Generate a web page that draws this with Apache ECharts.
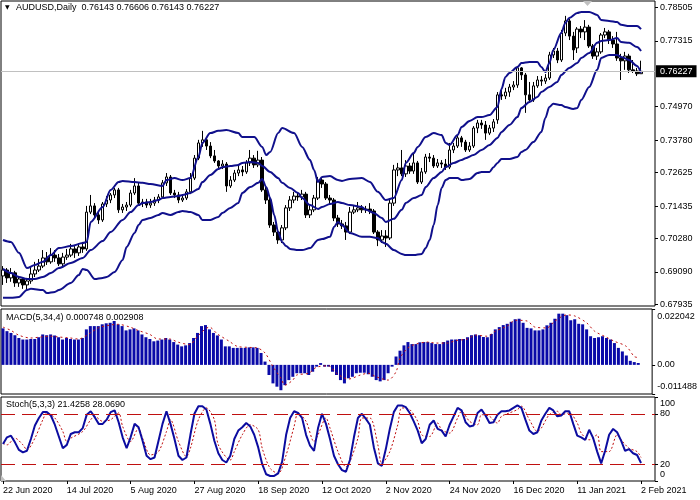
<!DOCTYPE html>
<html><head><meta charset="utf-8">
<script src="https://cdn.jsdelivr.net/npm/echarts@6/dist/echarts.min.js"></script>
<style>html,body{margin:0;padding:0;background:#fff}#c{width:700px;height:500px}</style>
</head><body><div id="c"></div>
<script>
// ---- data ----
const tickLabels = ['22 Jun 2020','14 Jul 2020','5 Aug 2020','27 Aug 2020','18 Sep 2020','12 Oct 2020','2 Nov 2020','24 Nov 2020','16 Dec 2020','11 Jan 2021','2 Feb 2021'];
const priceTicks = [0.67935,0.69090,0.70280,0.71435,0.72625,0.73780,0.74970,0.77315,0.78505];
const macdTicks = [-0.011488,0,0.022042];
const stochTicks = [0,20,80,100];

const open = [
0.6895,0.6916,0.6888,0.6906,0.6870,0.6884,0.6863,0.6877,0.6902,0.6916,
0.6930,0.6959,0.6945,0.6969,0.6959,0.6938,0.6962,0.6969,0.6991,0.6977,
0.6998,0.6991,0.7122,0.7144,0.7112,0.7094,0.7151,0.7165,0.7183,0.7201,
0.7130,0.7140,0.7147,0.7190,0.7215,0.7154,0.7158,0.7147,0.7154,0.7165,
0.7176,0.7226,0.7247,0.7190,0.7183,0.7165,0.7172,0.7194,0.7243,0.7314,
0.7368,0.7379,0.7357,0.7322,0.7304,0.7286,0.7293,0.7215,0.7236,0.7261,
0.7272,0.7265,0.7297,0.7314,0.7290,0.7307,0.7201,0.7165,0.7076,0.7051,
0.7023,0.7066,0.7137,0.7165,0.7179,0.7176,0.7186,0.7112,0.7130,0.7172,
0.7236,0.7222,0.7172,0.7165,0.7101,0.7080,0.7073,0.7051,0.7122,0.7130,
0.7137,0.7130,0.7133,0.7126,0.7051,0.7023,0.7037,0.7030,0.7154,0.7272,
0.7279,0.7258,0.7286,0.7268,0.7297,0.7229,0.7265,0.7318,0.7314,0.7286,
0.7297,0.7293,0.7282,0.7343,0.7357,0.7386,0.7371,0.7343,0.7357,0.7421,
0.7439,0.7432,0.7403,0.7421,0.7450,0.7539,0.7535,0.7549,0.7567,0.7574,
0.7635,0.7610,0.7539,0.7521,0.7571,0.7592,0.7588,0.7599,0.7681,0.7695,
0.7663,0.7759,0.7802,0.7748,0.7706,0.7773,0.7763,0.7780,0.7713,0.7677,
0.7692,0.7752,0.7763,0.7734,0.7720,0.7670,0.7660,0.7677,0.7628,0.7624,
0.76143];
const close = [
0.6916,0.6888,0.6906,0.6870,0.6884,0.6863,0.6877,0.6902,0.6916,0.6930,
0.6959,0.6945,0.6969,0.6959,0.6938,0.6962,0.6969,0.6991,0.6977,0.6998,
0.6991,0.7122,0.7144,0.7112,0.7094,0.7151,0.7165,0.7183,0.7201,0.7130,
0.7140,0.7147,0.7190,0.7215,0.7154,0.7158,0.7147,0.7154,0.7165,0.7176,
0.7226,0.7247,0.7190,0.7183,0.7165,0.7172,0.7194,0.7243,0.7314,0.7368,
0.7379,0.7357,0.7322,0.7304,0.7286,0.7293,0.7215,0.7236,0.7261,0.7272,
0.7265,0.7297,0.7314,0.7290,0.7307,0.7201,0.7165,0.7076,0.7051,0.7023,
0.7066,0.7137,0.7165,0.7179,0.7176,0.7186,0.7112,0.7130,0.7172,0.7236,
0.7222,0.7172,0.7165,0.7101,0.7080,0.7073,0.7051,0.7122,0.7130,0.7137,
0.7130,0.7133,0.7126,0.7051,0.7023,0.7037,0.7030,0.7154,0.7272,0.7279,
0.7258,0.7286,0.7268,0.7297,0.7229,0.7265,0.7318,0.7314,0.7286,0.7297,
0.7293,0.7282,0.7343,0.7357,0.7386,0.7371,0.7343,0.7357,0.7421,0.7439,
0.7432,0.7403,0.7421,0.7443,0.7539,0.7535,0.7549,0.7567,0.7574,0.7635,
0.7610,0.7539,0.7521,0.7571,0.7592,0.7588,0.7599,0.7681,0.7695,0.7663,
0.7759,0.7802,0.7748,0.7699,0.7773,0.7763,0.7780,0.7713,0.7677,0.7692,
0.7752,0.7763,0.7734,0.7720,0.7670,0.7660,0.7677,0.7628,0.7624,0.7614,
0.76227];
const high = [
0.6930,0.6923,0.6923,0.6913,0.6895,0.6891,0.6888,0.6930,0.6945,0.6955,
0.6987,0.6980,0.6994,0.6987,0.6973,0.6977,0.6991,0.7009,0.7001,0.7012,
0.7016,0.7144,0.7183,0.7154,0.7122,0.7158,0.7179,0.7190,0.7208,0.7208,
0.7151,0.7158,0.7201,0.7243,0.7229,0.7169,0.7169,0.7169,0.7176,0.7186,
0.7236,0.7261,0.7254,0.7201,0.7194,0.7183,0.7204,0.7261,0.7325,0.7379,
0.7411,0.7389,0.7371,0.7343,0.7307,0.7307,0.7300,0.7250,0.7272,0.7290,
0.7286,0.7307,0.7343,0.7325,0.7340,0.7318,0.7215,0.7172,0.7087,0.7062,
0.7076,0.7147,0.7179,0.7194,0.7190,0.7201,0.7194,0.7144,0.7183,0.7247,
0.7243,0.7229,0.7183,0.7172,0.7112,0.7094,0.7087,0.7140,0.7144,0.7158,
0.7147,0.7144,0.7154,0.7133,0.7058,0.7058,0.7058,0.7172,0.7290,0.7297,
0.7343,0.7307,0.7297,0.7332,0.7304,0.7279,0.7329,0.7332,0.7325,0.7311,
0.7307,0.7311,0.7368,0.7368,0.7393,0.7393,0.7379,0.7371,0.7428,0.7450,
0.7450,0.7446,0.7432,0.7453,0.7549,0.7556,0.7564,0.7578,0.7588,0.7642,
0.7638,0.7617,0.7585,0.7585,0.7606,0.7606,0.7613,0.7692,0.7706,0.7706,
0.7770,0.7820,0.7809,0.7763,0.7780,0.7784,0.7805,0.7788,0.7720,0.7706,
0.7759,0.7777,0.7770,0.7748,0.7763,0.7685,0.7692,0.7685,0.7663,0.7635,
0.76606];
const low = [
0.6863,0.6870,0.6874,0.6856,0.6856,0.6849,0.6845,0.6867,0.6891,0.6909,
0.6923,0.6934,0.6938,0.6945,0.6930,0.6930,0.6952,0.6962,0.6959,0.6966,
0.6977,0.6984,0.7115,0.7101,0.7080,0.7087,0.7140,0.7154,0.7172,0.7119,
0.7119,0.7126,0.7140,0.7183,0.7147,0.7140,0.7137,0.7137,0.7144,0.7154,
0.7169,0.7215,0.7183,0.7172,0.7154,0.7158,0.7165,0.7186,0.7236,0.7307,
0.7354,0.7343,0.7314,0.7297,0.7272,0.7275,0.7194,0.7208,0.7229,0.7250,
0.7250,0.7258,0.7286,0.7279,0.7282,0.7194,0.7151,0.7066,0.7037,0.7009,
0.7012,0.7058,0.7126,0.7154,0.7162,0.7165,0.7101,0.7101,0.7122,0.7165,
0.7208,0.7165,0.7151,0.7090,0.7069,0.7062,0.7023,0.7044,0.7115,0.7122,
0.7119,0.7119,0.7115,0.7044,0.7001,0.7012,0.6998,0.7023,0.7144,0.7250,
0.7250,0.7247,0.7258,0.7258,0.7222,0.7222,0.7258,0.7300,0.7279,0.7279,
0.7279,0.7272,0.7275,0.7332,0.7350,0.7354,0.7336,0.7336,0.7350,0.7403,
0.7418,0.7379,0.7396,0.7407,0.7436,0.7521,0.7524,0.7532,0.7556,0.7564,
0.7592,0.7475,0.7510,0.7514,0.7564,0.7571,0.7578,0.7592,0.7670,0.7652,
0.7656,0.7748,0.7734,0.7663,0.7688,0.7741,0.7734,0.7706,0.7667,0.7663,
0.7685,0.7741,0.7720,0.7706,0.7660,0.7592,0.7628,0.7617,0.7617,0.7606,
0.76143];

const bbUpper = [[0,0.7023],[2,0.7016],[4,0.6977],[6,0.6923],[8,0.6934],[10,0.6945],[12,0.6969],[14,0.6994],[17,0.7001],[20,0.7012],[21,0.7016],[22,0.7087],[25,0.7140],[27,0.7201],[29,0.7229],[30,0.7233],[33,0.7229],[35,0.7226],[37,0.7222],[40,0.7215],[41,0.7236],[43,0.7243],[45,0.7236],[47,0.7243],[49,0.7318],[50,0.7368],[52,0.7403],[54,0.7411],[56,0.7414],[59,0.7403],[60,0.7389],[63,0.7389],[65,0.7354],[66,0.7325],[67,0.7336],[69,0.7403],[70,0.7421],[73,0.7403],[75,0.7354],[77,0.7307],[78,0.7272],[79,0.7229],[80,0.7247],[82,0.7250],[84,0.7236],[85,0.7233],[87,0.7240],[90,0.7243],[92,0.7229],[94,0.7194],[96,0.7165],[98,0.7172],[100,0.7236],[101,0.7297],[103,0.7332],[104,0.7354],[106,0.7389],[108,0.7403],[110,0.7396],[111,0.7368],[112,0.7361],[114,0.7396],[115,0.7425],[117,0.7446],[119,0.7460],[120,0.7460],[122,0.7467],[124,0.7496],[125,0.7560],[126,0.7603],[127,0.7617],[129,0.7638],[130,0.7652],[132,0.7656],[134,0.7656],[135,0.7638],[136,0.7620],[137,0.7652],[138,0.7699],[140,0.7759],[141,0.7795],[142,0.7812],[144,0.7830],[145,0.7834],[147,0.7834],[149,0.7823],[150,0.7805],[152,0.7802],[154,0.7798],[155,0.7788],[157,0.7784],[159,0.7784],[160,0.7773]];
const bbMiddle = [[0,0.6920],[2,0.6905],[4,0.6891],[6,0.6884],[8,0.6884],[10,0.6891],[12,0.6905],[14,0.6923],[17,0.6941],[20,0.6959],[22,0.6987],[25,0.7019],[27,0.7051],[30,0.7094],[32,0.7122],[34,0.7147],[35,0.7154],[37,0.7158],[39,0.7165],[40,0.7172],[42,0.7176],[44,0.7179],[45,0.7183],[47,0.7190],[49,0.7204],[50,0.7229],[52,0.7254],[54,0.7275],[55,0.7282],[57,0.7286],[59,0.7290],[60,0.7297],[62,0.7300],[64,0.7297],[65,0.7286],[67,0.7265],[69,0.7243],[70,0.7226],[72,0.7208],[74,0.7190],[75,0.7172],[77,0.7147],[79,0.7133],[80,0.7140],[82,0.7151],[84,0.7158],[85,0.7154],[87,0.7147],[90,0.7140],[91,0.7130],[93,0.7119],[95,0.7101],[96,0.7087],[98,0.7098],[100,0.7130],[101,0.7154],[103,0.7172],[105,0.7183],[106,0.7211],[108,0.7243],[110,0.7265],[111,0.7282],[113,0.7297],[115,0.7307],[116,0.7314],[118,0.7325],[120,0.7343],[122,0.7361],[124,0.7386],[125,0.7407],[127,0.7432],[129,0.7460],[130,0.7492],[132,0.7514],[134,0.7531],[135,0.7549],[137,0.7567],[139,0.7585],[140,0.7610],[142,0.7635],[144,0.7652],[145,0.7670],[147,0.7688],[149,0.7724],[150,0.7731],[152,0.7734],[154,0.7741],[155,0.7727],[157,0.7724],[159,0.7709],[160,0.7695]];
const bbLower = [[0,0.6817],[2,0.6817],[4,0.6820],[6,0.6845],[7,0.6849],[10,0.6845],[11,0.6834],[13,0.6838],[14,0.6845],[17,0.6870],[19,0.6898],[20,0.6920],[21,0.6916],[23,0.6884],[25,0.6888],[26,0.6891],[28,0.6909],[30,0.6952],[31,0.6998],[33,0.7048],[34,0.7076],[35,0.7094],[37,0.7101],[39,0.7112],[40,0.7119],[42,0.7112],[44,0.7122],[45,0.7126],[47,0.7122],[49,0.7112],[50,0.7094],[52,0.7094],[54,0.7105],[55,0.7119],[57,0.7137],[59,0.7154],[60,0.7190],[62,0.7211],[64,0.7226],[65,0.7240],[66,0.7211],[67,0.7172],[68,0.7112],[69,0.7051],[70,0.7016],[71,0.7001],[72,0.6991],[74,0.6987],[75,0.6987],[77,0.6994],[79,0.7023],[80,0.7026],[82,0.7034],[83,0.7069],[84,0.7087],[85,0.7076],[87,0.7048],[90,0.7034],[92,0.7034],[94,0.7030],[95,0.7016],[96,0.7009],[98,0.6987],[100,0.6973],[101,0.6969],[103,0.6969],[105,0.6973],[106,0.6994],[107,0.7023],[108,0.7076],[109,0.7147],[110,0.7208],[111,0.7236],[112,0.7243],[114,0.7243],[115,0.7236],[117,0.7240],[119,0.7261],[120,0.7265],[122,0.7265],[123,0.7282],[124,0.7297],[125,0.7311],[127,0.7311],[129,0.7318],[130,0.7336],[131,0.7343],[133,0.7371],[135,0.7407],[136,0.7457],[137,0.7496],[138,0.7507],[140,0.7503],[141,0.7496],[143,0.7489],[144,0.7492],[145,0.7521],[147,0.7567],[149,0.7628],[150,0.7670],[152,0.7681],[154,0.7681],[155,0.7674],[157,0.7663],[159,0.7642],[160,0.7617]];

const macdHist = [
0.0144,0.0133,0.0126,0.0117,0.0106,0.0100,0.0100,0.0102,0.0102,0.0109,
0.0120,0.0117,0.0120,0.0116,0.0109,0.0100,0.0106,0.0102,0.0100,0.0100,
0.0106,0.0140,0.0153,0.0153,0.0153,0.0160,0.0164,0.0166,0.0173,0.0160,
0.0153,0.0136,0.0140,0.0144,0.0136,0.0120,0.0109,0.0102,0.0093,0.0096,
0.0100,0.0106,0.0100,0.0090,0.0080,0.0073,0.0077,0.0086,0.0106,0.0126,
0.0153,0.0157,0.0140,0.0126,0.0116,0.0100,0.0073,0.0073,0.0067,0.0067,
0.0067,0.0067,0.0069,0.0069,0.0067,0.0047,0.0013,-0.0040,-0.0073,-0.0086,
-0.0100,-0.0080,-0.0060,-0.0047,-0.0033,-0.0033,-0.0033,-0.0040,-0.0027,-0.0007,
0.0007,-0.0007,-0.0007,-0.0027,-0.0040,-0.0060,-0.0073,-0.0053,-0.0047,-0.0033,
-0.0031,-0.0031,-0.0037,-0.0047,-0.0060,-0.0065,-0.0060,-0.0033,-0.0007,0.0033,
0.0056,0.0077,0.0090,0.0082,0.0082,0.0089,0.0090,0.0090,0.0086,0.0082,
0.0082,0.0090,0.0096,0.0100,0.0100,0.0102,0.0102,0.0109,0.0117,0.0120,
0.0117,0.0110,0.0109,0.0122,0.0140,0.0149,0.0157,0.0162,0.0170,0.0180,
0.0182,0.0166,0.0146,0.0144,0.0136,0.0136,0.0140,0.0156,0.0166,0.0182,
0.0202,0.0202,0.0196,0.0176,0.0180,0.0162,0.0160,0.0140,0.0113,0.0106,
0.0109,0.0113,0.0106,0.0100,0.0086,0.0067,0.0053,0.0037,0.0016,0.0011,
0.000748];
const macdSignal = [[0,0.0149],[2,0.0136],[4,0.0117],[7,0.0106],[9,0.0109],[12,0.0113],[14,0.0110],[17,0.0106],[19,0.0102],[22,0.0126],[24,0.0146],[27,0.0157],[29,0.0160],[32,0.0149],[34,0.0136],[37,0.0120],[39,0.0102],[42,0.0102],[44,0.0090],[47,0.0080],[49,0.0113],[52,0.0149],[54,0.0122],[57,0.0093],[59,0.0073],[62,0.0069],[64,0.0067],[66,0.0047],[68,-0.0007],[70,-0.0053],[71,-0.0080],[73,-0.0060],[74,-0.0040],[77,-0.0033],[79,-0.0009],[82,-0.0004],[84,-0.0033],[87,-0.0056],[90,-0.0040],[92,-0.0033],[94,-0.0047],[97,-0.0060],[99,-0.0027],[100,0.0027],[102,0.0067],[104,0.0082],[107,0.0090],[109,0.0086],[112,0.0086],[114,0.0096],[117,0.0102],[119,0.0117],[122,0.0113],[124,0.0133],[127,0.0153],[129,0.0176],[132,0.0173],[134,0.0149],[137,0.0146],[139,0.0173],[142,0.0197],[144,0.0193],[147,0.0166],[149,0.0133],[152,0.0109],[154,0.0093],[157,0.0073],[159,0.0033],[160,0.002908]];

const stochMain = [
44,52,54,46,37,34,36,50,66,75,82,82,78,67,
53,39,43,56,58,58,63,79,83,76,68,68,73,82,84,70,52,39,52,68,64,48,30,26,28,48,68,83,68,50,30,25,28,55,80,89,89,85,68,48,33,25,22,30,50,60,64,69,65,55,40,20,8,6,6,9,23,55,75,83,81,75,55,42,36,63,80,68,50,30,20,13,11,
25,
52,75,80,74,67,40,21,18,38,62,82,90,90,88,81,71,60,45,50,67,72,62,60,53,67,77,87,84,70,65,66,81,85,78,69,70,79,83,83,84,87,90,87,73,60,56,58,72,80,87,84,77,78,83,83,68,54,52,49,61,51,35,21,36,55,62,58,48,36,38,33,31,21.4258];
const stochSignal = [[0,45],[1,43],[3,51],[5,43],[6,37],[8,51],[10,73],[11,81],[13,75],[15,59],[16,47],[17,51],[20,59],[22,73],[23,77],[25,71],[27,73],[29,81],[30,65],[32,47],[34,63],[35,51],[37,31],[39,35],[41,59],[42,73],[44,47],[46,29],[47,39],[49,73],[51,87],[53,73],[54,43],[57,25],[58,35],[60,55],[62,67],[64,61],[65,39],[67,15],[69,9],[71,31],[73,65],[74,81],[76,71],[78,47],[79,55],[81,75],[82,63],[84,35],[86,17],[87,23],[89,51],[90,75],[92,75],[94,43],[95,21],[97,35],[99,67],[100,87],[102,85],[104,71],[105,55],[107,53],[109,69],[110,61],[112,57],[114,75],[115,83],[117,71],[119,67],[120,79],[122,77],[124,69],[125,77],[127,81],[129,85],[130,89],[132,73],[134,59],[135,63],[137,79],[139,83],[140,79],[142,81],[144,69],[145,57],[147,49],[149,55],[150,35],[152,35],[154,55],[155,49],[157,39],[159,35],[160,28.0690]];

const lastPrice = 0.76227;

// ---- chart ----
const FONT = 'Liberation Sans';
const SLOTS = 164;
const cats = Array.from({length: SLOTS}, (_, i) => String(i));
const candles = open.map((o, i) => [o, close[i], low[i], high[i]]);
const labelEvery = 16;
const showTick = (i) => i % labelEvery === 0 && i / labelEvery < tickLabels.length;
const NAVY = '#10108c';
const RED = '#c01010';
const txt = {fontFamily: FONT, fontSize: 9, color: '#000'};
const gridBase = {left: 1, width: 654, show: true, borderColor: '#000', borderWidth: 1, containLabel: false};

const chart = echarts.init(document.getElementById('c'));
chart.setOption({
  animation: false,
  backgroundColor: '#fff',
  textStyle: {fontFamily: FONT},
  title: [
    {text: '\u25BC', left: 5, top: 4, padding: 0, textStyle: {fontFamily: 'DejaVu Sans', fontSize: 6, fontWeight: 'normal', color: '#000'}},
    {text: 'AUDUSD,Daily  0.76143 0.76606 0.76143 0.76227', left: 16, top: 3, padding: 0, textStyle: Object.assign({fontWeight: 'normal'}, txt)},
    {text: 'MACD(5,34,4) 0.000748 0.002908', left: 6, top: 313, padding: 0, textStyle: Object.assign({fontWeight: 'normal'}, txt)},
    {text: 'Stoch(5,3,3) 21.4258 28.0690', left: 6, top: 400, padding: 0, textStyle: Object.assign({fontWeight: 'normal'}, txt)}
  ],
  graphic: [
    {type: 'polygon', silent: true, z: 100, shape: {points: [[583, 1], [592, 1], [587.5, 6]]}, style: {fill: '#c0c0c0'}},
    {type: 'polygon', silent: true, z: 100, shape: {points: [[1, 475], [1, 481], [6, 481]]}, style: {fill: '#c0c0c0'}}
  ],
  grid: [
    Object.assign({top: 1, height: 305}, gridBase),
    Object.assign({top: 309, height: 85}, gridBase),
    Object.assign({top: 397, height: 84}, gridBase)
  ],
  xAxis: [
    {type: 'category', gridIndex: 0, data: cats, boundaryGap: true, show: false},
    {type: 'category', gridIndex: 1, data: cats, boundaryGap: true, show: false},
    {type: 'category', gridIndex: 2, data: cats, boundaryGap: true,
      axisLine: {show: false},
      axisTick: {show: true, alignWithLabel: true, interval: showTick, length: 3, lineStyle: {color: '#000'}},
      axisLabel: Object.assign({interval: showTick, align: 'left', margin: 5,
        formatter: (v, i) => tickLabels[i / labelEvery]}, txt),
      splitLine: {show: false}}
  ],
  yAxis: [
    {type: 'value', gridIndex: 0, position: 'right', min: 0.678802, max: 0.787291,
      axisLine: {show: false}, splitLine: {show: false},
      axisTick: {show: true, length: 3, customValues: priceTicks, lineStyle: {color: '#000'}},
      axisLabel: Object.assign({customValues: priceTicks, margin: 5, formatter: v => v.toFixed(5)}, txt)},
    {type: 'value', gridIndex: 1, position: 'right', min: -0.011488, max: 0.022042,
      axisLine: {show: false}, splitLine: {show: false},
      axisTick: {show: true, length: 3, customValues: macdTicks, lineStyle: {color: '#000'}},
      axisLabel: Object.assign({customValues: macdTicks, margin: 5, padding: [3, 0, 3, 0],
        verticalAlignMinLabel: 'bottom', verticalAlignMaxLabel: 'top',
        formatter: v => v === 0 ? '0.00' : v.toFixed(6)}, txt)},
    {type: 'value', gridIndex: 2, position: 'right', min: 0, max: 100,
      axisLine: {show: false}, splitLine: {show: false},
      axisTick: {show: true, length: 3, customValues: stochTicks, lineStyle: {color: '#000'}},
      axisLabel: Object.assign({customValues: stochTicks, margin: 5, padding: [2, 0, 2, 0],
        verticalAlignMinLabel: 'bottom', verticalAlignMaxLabel: 'top'}, txt)}
  ],
  series: [
    {type: 'line', xAxisIndex: 0, yAxisIndex: 0, data: [], symbol: 'none', z: 1,
      markLine: {silent: true, symbol: ['none', 'none'], animation: false, precision: 6,
        lineStyle: {color: '#c0c0c0', width: 1, type: 'solid'},
        label: {show: true, position: 'end', distance: 1, formatter: () => lastPrice.toFixed(5),
          backgroundColor: '#000', color: '#fff', padding: [2, 4, 1, 4], fontFamily: FONT, fontSize: 9},
        data: [{yAxis: lastPrice}]}},
    {type: 'candlestick', xAxisIndex: 0, yAxisIndex: 0, data: candles, barWidth: 3, z: 2,
      itemStyle: {color: '#fff', color0: '#000', borderColor: '#000', borderColor0: '#000', borderWidth: 1}},
    {type: 'line', xAxisIndex: 0, yAxisIndex: 0, data: bbUpper, symbol: 'none', smooth: 0.3, smoothMonotone: 'x', z: 3,
      lineStyle: {color: NAVY, width: 2}},
    {type: 'line', xAxisIndex: 0, yAxisIndex: 0, data: bbMiddle, symbol: 'none', smooth: 0.3, smoothMonotone: 'x', z: 3,
      lineStyle: {color: NAVY, width: 2}},
    {type: 'line', xAxisIndex: 0, yAxisIndex: 0, data: bbLower, symbol: 'none', smooth: 0.3, smoothMonotone: 'x', z: 3,
      lineStyle: {color: NAVY, width: 2}},
    {type: 'bar', xAxisIndex: 1, yAxisIndex: 1, data: macdHist, barWidth: 3, itemStyle: {color: '#0a0aa8'}},
    {type: 'line', xAxisIndex: 1, yAxisIndex: 1, data: macdSignal, symbol: 'none', smooth: 0.3, z: 3,
      lineStyle: {color: RED, width: 1, type: [2, 3]}},
    {type: 'line', xAxisIndex: 2, yAxisIndex: 2, data: stochMain, symbol: 'none', z: 3,
      lineStyle: {color: '#0c0ca0', width: 2},
      markLine: {silent: true, symbol: ['none', 'none'], label: {show: false},
        lineStyle: {color: RED, width: 1, type: [14, 7]},
        data: [{yAxis: 80}, {yAxis: 20}]}},
    {type: 'line', xAxisIndex: 2, yAxisIndex: 2, data: stochSignal, symbol: 'none', smooth: 0.3, z: 2,
      lineStyle: {color: RED, width: 1, type: [2, 2]}}
  ]
});
</script>
</body></html>
